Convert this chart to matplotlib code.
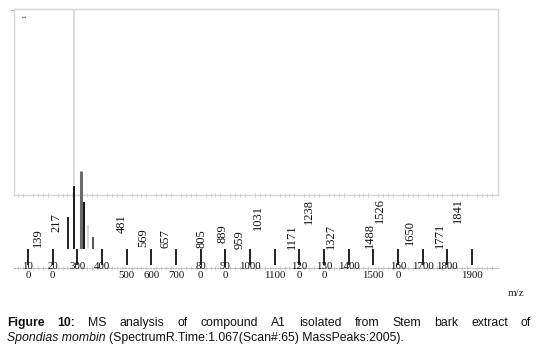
import matplotlib
matplotlib.use("Agg")
import matplotlib.pyplot as plt
from matplotlib.ticker import FixedLocator

# ---------------- data ----------------
tick_vals = [100, 200, 300, 400, 500, 600, 700, 800, 900, 1000,
             1100, 1200, 1300, 1400, 1500, 1600, 1700, 1800, 1900]
tick_labels = ["10\n0", "20\n0", "300", "400", "\n500", "\n600", "\n700",
               "80\n0", "90\n0", "1000", "\n1100", "120\n0", "130\n0",
               "1400", "\n1500", "160\n0", "1700", "1800", "\n1900"]

bar_mz = [262, 286, 315, 327, 343, 363]
bar_int = [41, 81, 100, 60, 31, 16]

# peak annotations: groups of labels printed one above the other
label_groups = [[139], [217], [481], [569], [657], [805], [889],
                [959, 1031], [1171, 1238], [1327], [1488, 1526],
                [1650], [1771, 1841]]
group_level = [2.5, 22, 21, 2.5, 1.5, 1.5, 8, 0, 0, 0, 1, 5, 1]

cursor_mz = 286

# ---------------- styles ----------------
bar_colors = ["#222222", "#1a1a1a", "#6a6a6a", "#111111", "#d8d8d8", "#555555"]
bar_widths = [1.4, 1.4, 2.2, 1.4, 1.4, 1.4]
XLIM = (43.2, 2005.4)
YTOP = 308
SERIF = "Liberation Serif"
SANS = "Liberation Sans"

W, H = 538, 354
fig = plt.figure(figsize=(W / 100, H / 100), dpi=100)
renderer = fig.canvas.get_renderer()


def fx(px):
    return px / W


def fy(py):
    return 1 - py / H


left, right = 14, 498
minor_locs = [m for m in range(60, 2000, 20) if m % 100]

# dotted baseline strip
ax_base = fig.add_axes([fx(left), fy(268), fx(right) - fx(left), 1e-4])
ax_base.set_xlim(XLIM)
for s in ["top", "left", "right"]:
    ax_base.spines[s].set_visible(False)
ax_base.spines["bottom"].set_linestyle((0, (1, 1.5)))
ax_base.spines["bottom"].set_color("#b5b5b5")
ax_base.spines["bottom"].set_linewidth(0.8)
ax_base.set_yticks([])
ax_base.set_xticks([])
ax_base.xaxis.set_minor_locator(FixedLocator(minor_locs))
ax_base.tick_params(axis="x", which="minor", direction="inout", length=2.5,
                    width=0.5, color="#c4c4c4")
ax_base.patch.set_visible(False)

# top frame box
ax_box = fig.add_axes([fx(left), fy(195), fx(right) - fx(left), fy(9) - fy(195)])
ax_box.set_xlim(XLIM)
ax_box.set_ylim(0, 1)
for s in ax_box.spines.values():
    s.set_color("#d6d6d6")
    s.set_linewidth(1.0)
ax_box.set_xticks([])
ax_box.xaxis.set_minor_locator(FixedLocator(minor_locs))
ax_box.tick_params(axis="x", which="minor", direction="inout", length=3,
                   width=0.5, color="#bdbdbd")
ax_box.set_yticks([0.995])
ax_box.set_yticklabels([])
ax_box.tick_params(axis="y", length=2, width=0.6, color="#999999")
ax_box.axvline(cursor_mz, color="#d4d4d4", lw=1.2)
ax_box.text(0.0227, 0.962, "1", rotation=90, ha="center", va="center",
            fontsize=5, family=SERIF, color="#222222", transform=ax_box.transAxes)

# spectrum axes
ax = fig.add_axes([fx(left), fy(249), fx(right) - fx(left), fy(9) - fy(249)])
ax.patch.set_visible(False)
ax.set_xlim(XLIM)
ax.set_ylim(0, YTOP)
for s in ax.spines.values():
    s.set_visible(False)
ax.set_yticks([])
ax.set_xticks(tick_vals, tick_labels, fontsize=7.8, fontfamily=SERIF,
              linespacing=0.95, color="#111111")
ax.tick_params(axis="x", direction="out", length=11.5, width=1.3,
               color="#111111", pad=-1.8)

ax.vlines(bar_mz, 0, bar_int, colors=bar_colors, linewidths=bar_widths)

for group, lev in zip(label_groups, group_level):
    y = lev
    for m in group:
        t = ax.text(m, y, str(m), rotation=90, ha="center", va="bottom",
                    fontsize=9, family=SERIF, color="#111111")
        bb = t.get_window_extent(renderer)
        y = ax.transData.inverted().transform((bb.x0, bb.y1))[1]

fig.text(fx(516), fy(293), "m/z", ha="center", va="center",
         family=SERIF, fontsize=8, color="#222222")

# ---------------- caption ----------------
cap_size = 8.8
line1 = [("Figure", "bold"), ("10:", "bold")] + [
    (w, "normal") for w in
    "MS analysis of compound A1 isolated from Stem bark extract of".split()]

widths = []
for word, wt in line1:
    t = fig.text(0, 0, word, fontsize=cap_size, family=SANS, weight=wt)
    widths.append(t.get_window_extent(renderer).width)
    t.remove()
x0, x1 = 7, 531
gap = (x1 - x0 - sum(widths)) / (len(line1) - 1)
x = x0
for (word, wt), wd in zip(line1, widths):
    fig.text(fx(x), fy(326), word, fontsize=cap_size, family=SANS, weight=wt,
             va="baseline", ha="left", color="#111111")
    x += wd + gap

t_it = fig.text(fx(7), fy(341), "Spondias mombin", fontsize=cap_size,
                family=SANS, style="italic", va="baseline", ha="left",
                color="#111111")
w_it = t_it.get_window_extent(renderer).width
fig.text(fx(7 + w_it + 3.5), fy(341),
         "(SpectrumR.Time:1.067(Scan#:65) MassPeaks:2005).",
         fontsize=cap_size, family=SANS, va="baseline", ha="left",
         color="#111111")

fig.savefig("out.png", dpi=100)
